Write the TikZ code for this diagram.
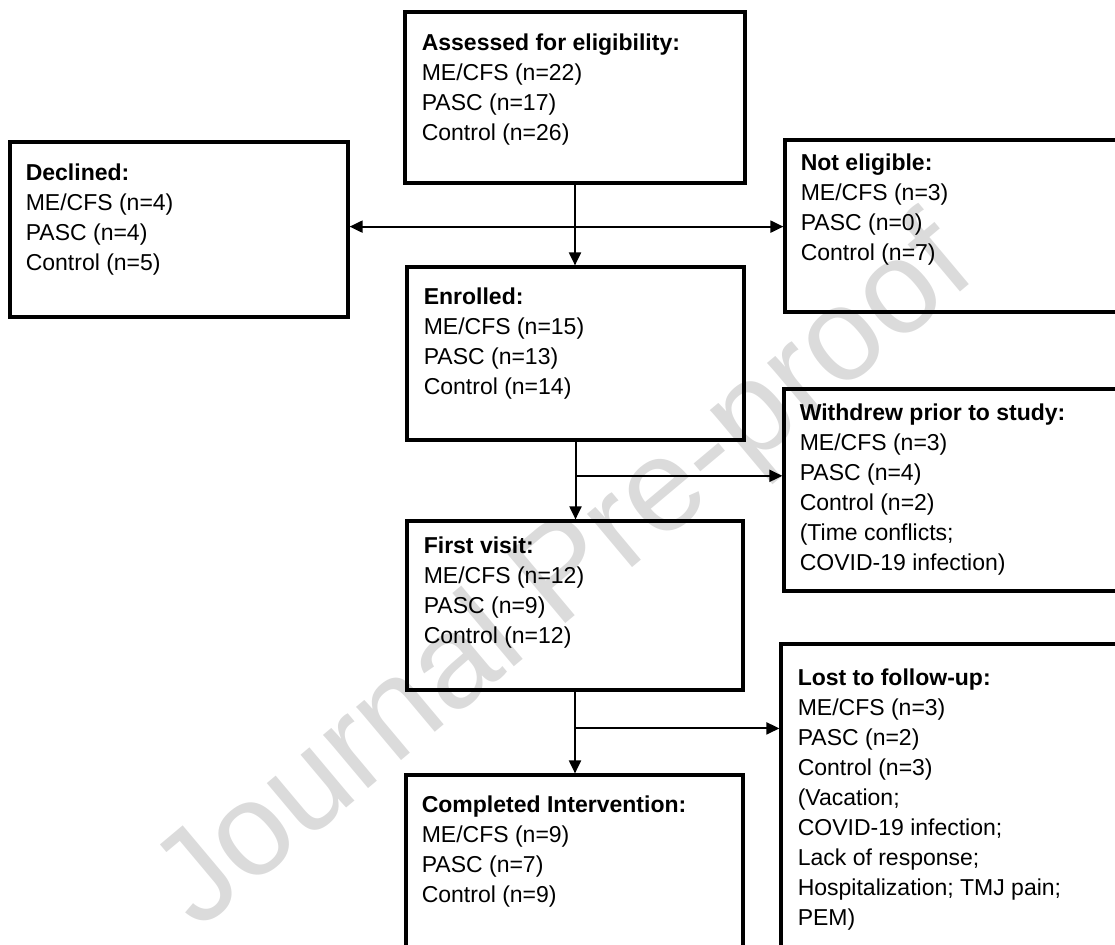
\documentclass[tikz,border=0pt]{standalone}
\usepackage{fontspec}
\setmainfont{Liberation Sans}
\usetikzlibrary{positioning,calc,arrows.meta}
\tikzset{flowbox/.style={draw, rectangle, line width=1.6pt, inner sep=0pt}}
\tikzset{boxtxt/.style={inner sep=0pt, align=left, font=\fontsize{11.5}{15}\selectfont}}
\tikzset{arr/.style={draw, line width=1pt, -{Triangle[length=6.5pt,width=6pt]}}}
\tikzset{wmark/.style={text=black!14, inner sep=0pt, anchor=base west, rotate=40, font=\fontsize{66}{66}\selectfont}}

\begin{document}
\begin{tikzpicture}[x=0.5pt, y=-0.5pt]
			\clip (0,0) rectangle (1115,944);
			\node[wmark] (wm) at (198,932) {Journal Pre-proof};
%
			\node[flowbox, minimum width=170pt, minimum height=85.5pt] (assess) at (575,97.5) {};
			\node[flowbox, minimum width=169pt, minimum height=87.5pt] (declined) at (179,229.5) {};
			\node[flowbox, minimum width=175pt, minimum height=86pt] (noteli) at (960,226) {};
			\node[flowbox, minimum width=168.5pt, minimum height=86.5pt] (enrol) at (575.5,353.5) {};
			\node[flowbox, minimum width=175.5pt, minimum height=101pt] (withdrew) at (959.5,490) {};
			\node[flowbox, minimum width=168pt, minimum height=84.5pt] (first) at (575,605.5) {};
			\node[flowbox, minimum width=177pt, minimum height=163pt] (lost) at (958,807) {};
			\node[flowbox, minimum width=168.5pt, minimum height=97.5pt] (done) at (574.5,872.5) {};
%
			\node[boxtxt, below right=11.5pt and 9pt of assess.north west] (assessT)
				{\textbf{Assessed for eligibility:}\\ME/CFS (n=22)\\PASC (n=17)\\Control (n=26)};
			\node[boxtxt, below right=11.5pt and 8.5pt of declined.north west] (declinedT)
				{\textbf{Declined:}\\ME/CFS (n=4)\\PASC (n=4)\\Control (n=5)};
			\node[boxtxt, below right=7.5pt and 8.5pt of noteli.north west] (noteliT)
				{\textbf{Not eligible:}\\ME/CFS (n=3)\\PASC (n=0)\\Control (n=7)};
			\node[boxtxt, below right=11pt and 9pt of enrol.north west] (enrolT)
				{\textbf{Enrolled:}\\ME/CFS (n=15)\\PASC (n=13)\\Control (n=14)};
			\node[boxtxt, below right=8pt and 8.5pt of withdrew.north west] (withdrewT)
				{\textbf{Withdrew prior to study:}\\ME/CFS (n=3)\\PASC (n=4)\\Control (n=2)\\(Time conflicts;\\COVID-19 infection)};
			\node[boxtxt, below right=8.5pt and 9pt of first.north west] (firstT)
				{\textbf{First visit:}\\ME/CFS (n=12)\\PASC (n=9)\\Control (n=12)};
			\node[boxtxt, below right=13pt and 9pt of lost.north west] (lostT)
				{\textbf{Lost to follow-up:}\\ME/CFS (n=3)\\PASC (n=2)\\Control (n=3)\\(Vacation;\\COVID-19 infection;\\Lack of response;\\Hospitalization; TMJ pain;\\PEM)};
			\node[boxtxt, below right=11pt and 8.5pt of done.north west] (doneT)
				{\textbf{Completed Intervention:}\\ME/CFS (n=9)\\PASC (n=7)\\Control (n=9)};
%
			\coordinate (j1) at ($ (assess.south)!.52!(assess.south |- enrol.north) $);
			\coordinate (j2) at ($ (enrol.south)!.44!(enrol.south |- first.north) $);
			\coordinate (j3) at ($ (first.south)!.45!(first.south |- done.north) $);
			\draw[arr] (assess.south) -- (assess.south |- enrol.north);
			\draw[arr] (j1) -- (j1 -| declined.east);
			\draw[arr] (j1) -- (j1 -| noteli.west);
			\draw[arr] (enrol.south) -- (enrol.south |- first.north);
			\draw[arr] (j2) -- (j2 -| withdrew.west);
			\draw[arr] (first.south) -- (first.south |- done.north);
			\draw[arr] (j3) -- (j3 -| lost.west);
		\end{tikzpicture}
\end{document}
